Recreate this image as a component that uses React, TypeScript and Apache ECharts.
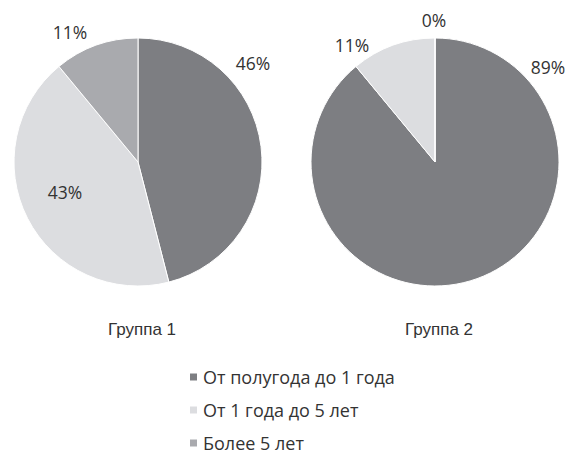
import React, { useEffect, useRef } from "react";
import * as echarts from "echarts";

const categories = ["От полугода до 1 года", "От 1 года до 5 лет", "Более 5 лет"];
const group1 = [46, 43, 11];
const group2 = [89, 11, 0];
const groupNames = ["Группа 1", "Группа 2"];

const colors = ["#7d7e82", "#dcdde0", "#a9aaae"];
// label anchor positions (px) for each series' slices
const labelPos1 = [[253, 63], [65, 192], [70, 32]];
const labelPos2 = [[548, 67], [352, 45], [434, 20]];

const FONT = "'Open Sans', sans-serif";

export default function App() {
  const ref = useRef<HTMLDivElement>(null);
  useEffect(() => {
    if (!ref.current) return;
    const chart = echarts.init(ref.current, null, { renderer: "svg" });
    const mkSeries = (vals: number[], center: [number, number], pos: number[][]) => ({
      type: "pie",
      center,
      radius: 124,
      startAngle: 90,
      clockwise: true,
      avoidLabelOverlap: false,
      data: vals.map((v, i) => ({ name: categories[i], value: v })),
      itemStyle: { borderColor: "#ffffff", borderWidth: 1 },
      label: {
        show: true,
        position: "outside",
        formatter: "{c}%",
        fontFamily: FONT,
        fontSize: 17.5,
        color: "#333333",
      },
      labelLine: { show: false },
      labelLayout: (p: any) => ({
        x: pos[p.dataIndex][0],
        y: pos[p.dataIndex][1],
        align: "center",
        verticalAlign: "middle",
      }),
      emphasis: { disabled: true },
    });
    const titleStyle = {
      fontFamily: "'Liberation Sans', Arial, sans-serif",
      fontSize: 17,
      fontWeight: "normal",
      color: "#333333",
    };
    chart.setOption({
      animation: false,
      color: colors,
      title: [
        { text: groupNames[0], left: 137, top: 316, textAlign: "center", textStyle: titleStyle },
        { text: groupNames[1], left: 434, top: 316, textAlign: "center", textStyle: titleStyle },
      ],
      legend: {
        orient: "vertical",
        left: 183,
        top: 363,
        height: 120,
        icon: "rect",
        itemWidth: 9,
        itemHeight: 9,
        itemGap: 15,
        data: categories,
        selectedMode: false,
        textStyle: { fontFamily: FONT, fontSize: 18, color: "#333333" },
      },
      series: [
        mkSeries(group1, [138, 162], labelPos1),
        mkSeries(group2, [435, 162], labelPos2),
      ],
    });
    return () => chart.dispose();
  }, []);
  return <div ref={ref} style={{ width: 569, height: 457, position: "absolute", left: 0, top: 0 }} />;
}
